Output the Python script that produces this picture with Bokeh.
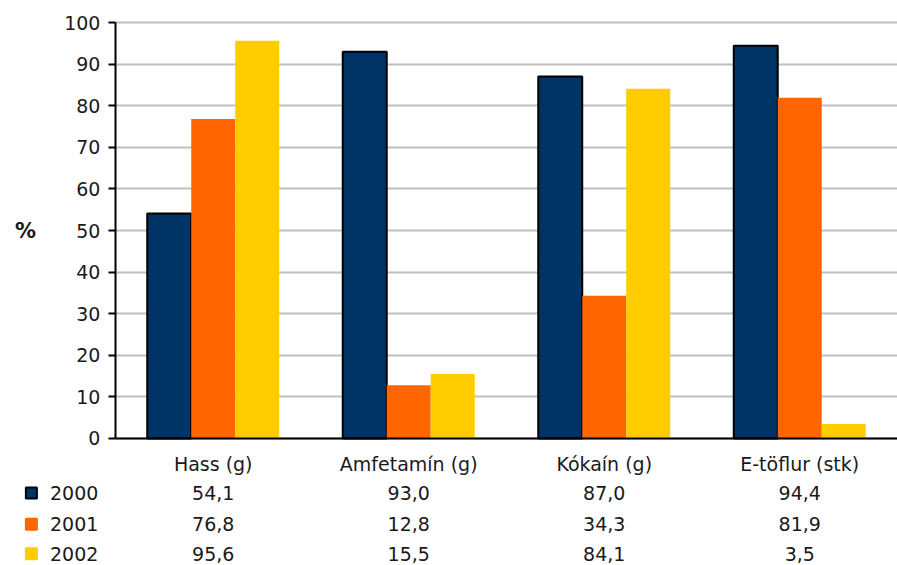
from bokeh.plotting import figure
from bokeh.models import (ColumnDataSource, Range1d, FixedTicker, LabelSet, Label)
from bokeh.core.properties import value
from bokeh.embed import file_html
from bokeh.resources import INLINE

categories = ["Hass (g)", "Amfetamín (g)", "Kókaín (g)", "E-töflur (stk)"]
years = ["2000", "2001", "2002"]
v2000 = [54.1, 93.0, 87.0, 94.4]
v2001 = [76.8, 12.8, 34.3, 81.9]
v2002 = [95.6, 15.5, 84.1, 3.5]
series = [v2000, v2001, v2002]
colors = ["#003366", "#FF6600", "#FFCC00"]
outlines = ["#000000", "#FF6600", "#FFCC00"]
y_ticks = list(range(0, 101, 10))

FONT = "DejaVu Sans"
FS = "19px"
TXT = "#1a1a1a"

W, H = 897, 565
p = figure(x_range=Range1d(-0.588, 4.0), y_range=Range1d(-30.53, 105.29),
           width=W, height=H, output_backend="svg", toolbar_location=None,
           min_border=0, title=None)
p.outline_line_color = None
p.background_fill_color = "white"

# bars
bw = 0.225
centers = [i + 0.5 for i in range(len(categories))]
for k, (vals, col, oc) in enumerate(zip(series, colors, outlines)):
    src = ColumnDataSource(dict(x=[c + (k - 1) * bw for c in centers], top=vals))
    p.vbar(x="x", top="top", width=bw, source=src, fill_color=col,
           line_color=oc, line_width=2 if k == 0 else 0)

# axes inside the frame
p.xgrid.grid_line_color = None
p.ygrid.grid_line_color = "#c0c0c0"
p.ygrid.grid_line_width = 2
p.ygrid.cross_bounds = (0, 4)

p.yaxis.fixed_location = 0
p.yaxis.bounds = (0, 100)
p.yaxis.ticker = FixedTicker(ticks=y_ticks)
p.yaxis.minor_tick_line_color = None
p.yaxis.major_tick_out = 7
p.yaxis.major_tick_in = 0
p.yaxis.major_tick_line_width = 2
p.yaxis.axis_line_width = 2
p.yaxis.major_label_standoff = 8

p.xaxis.fixed_location = 0
p.xaxis.bounds = (0, 4)
p.xaxis.ticker = FixedTicker(ticks=centers)
p.xaxis.major_label_overrides = {c: name for c, name in zip(centers, categories)}
p.xaxis.axis_line_width = 2
p.xaxis.major_tick_line_color = None
p.xaxis.minor_tick_line_color = None
p.xaxis.major_label_standoff = 9

for ax in (p.xaxis, p.yaxis):
    ax.major_label_text_font = FONT
    ax.major_label_text_font_size = FS
    ax.major_label_text_color = TXT
    ax.axis_line_color = "black"

# "%" label
p.add_layout(Label(x=-0.46, y=50, text="%", text_font=FONT, text_font_size="21px",
                   text_font_style="bold", text_align="center", text_baseline="middle",
                   text_color=TXT))

# data table below the chart
row_y = [-13.1, -20.6, -27.7]
tx, ty, ttext = [], [], []
for vals, yy in zip(series, row_y):
    for c, v in zip(centers, vals):
        tx.append(c)
        ty.append(yy)
        ttext.append(f"{v:.1f}".replace(".", ","))
p.add_layout(LabelSet(x="x", y="y", text="text",
                      source=ColumnDataSource(dict(x=tx, y=ty, text=ttext)),
                      text_font=value(FONT), text_font_size=value(FS), text_align="center",
                      text_baseline="middle", text_color=TXT))

# legend keys of the table
key_x = -0.43
lab_x = -0.335
p.scatter(x=[key_x] * len(years), y=row_y, marker="square", size=11,
          fill_color=colors, line_color=outlines, line_width=2)
p.add_layout(LabelSet(x="x", y="y", text="text",
                      source=ColumnDataSource(dict(x=[lab_x] * len(years), y=row_y, text=years)),
                      text_font=value(FONT), text_font_size=value(FS), text_align="left",
                      text_baseline="middle", text_color=TXT))

open("out.html", "w").write(file_html(p, INLINE))
